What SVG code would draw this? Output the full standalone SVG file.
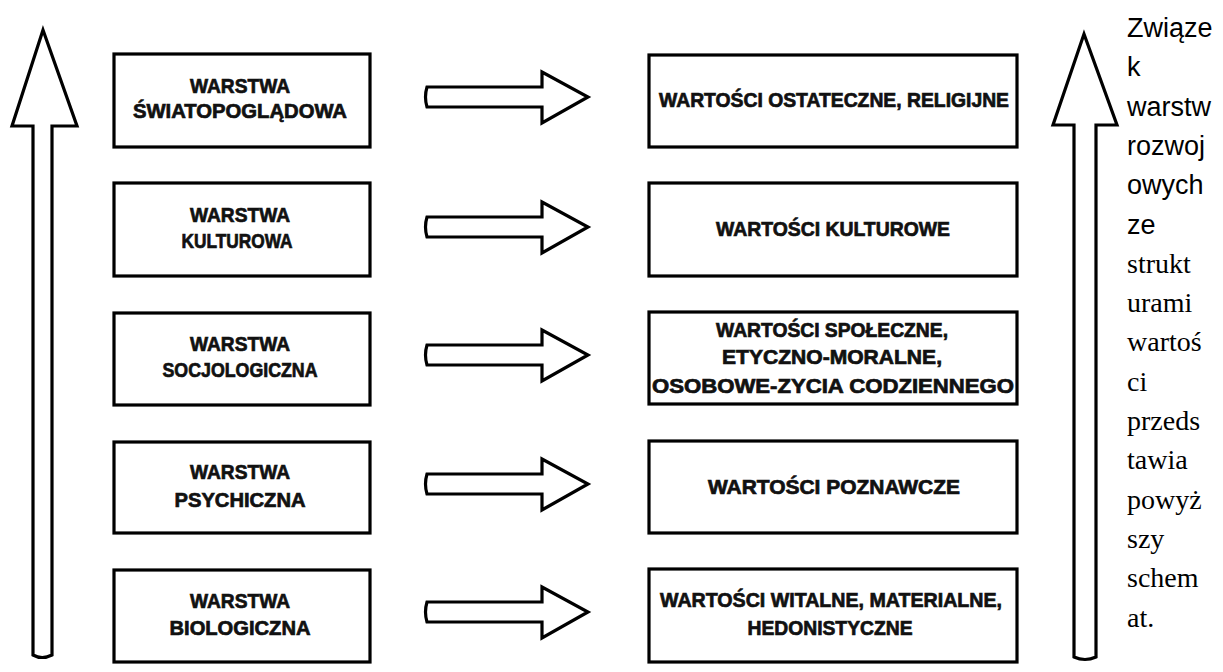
<svg xmlns="http://www.w3.org/2000/svg" width="1223" height="672" viewBox="0 0 1223 672">
<style>
  .box { fill: #fff; stroke: #000; stroke-width: 3.2; }
  .arr { fill: #fff; stroke: #000; stroke-width: 3.2; stroke-linejoin: miter; }
  .big { fill: #fff; stroke: #000; stroke-width: 3.2; stroke-linejoin: miter; }
  .lbl { font-family: "Liberation Sans", Arial, sans-serif; font-weight: 700; font-size: 20px; fill: #111; stroke: #111; stroke-width: 0.7; text-anchor: middle; }
  .sans { font-family: "Liberation Sans", Arial, sans-serif; font-size: 27px; fill: #000; }
  .serif { font-family: "Liberation Serif", "Times New Roman", serif; font-size: 28px; fill: #000; }
</style>
<defs>
  <path id="harrow" d="M0,-10 H115 V-25 L161,0 L115,26 V10 H0 Q-3,0 0,-10 Z"/>
</defs>
<rect width="1223" height="672" fill="#fff"/>

<g id="left-axis">
  <path class="big" d="M43,30 L77,126 H52 V655 Q42,660 33,655 V126 H12 Z"/>
</g>
<g id="right-axis">
  <path class="big" d="M1084,34 L1117,125 H1096 V657 Q1085,662 1074,657 V125 H1053 Z"/>
</g>

<g id="connectors">
  <use href="#harrow" class="arr" x="427" y="97"/>
  <use href="#harrow" class="arr" x="427" y="227"/>
  <use href="#harrow" class="arr" x="427" y="355"/>
  <use href="#harrow" class="arr" x="427" y="484"/>
  <use href="#harrow" class="arr" x="427" y="612"/>
</g>

<g id="l1">
  <rect class="box" x="114" y="54" width="256" height="93"/>
  <text class="lbl" x="240" y="93" textLength="100" lengthAdjust="spacingAndGlyphs">WARSTWA</text>
  <text class="lbl" x="240" y="118" textLength="214" lengthAdjust="spacingAndGlyphs">ŚWIATOPOGLĄDOWA</text>
</g>
<g id="l2">
  <rect class="box" x="114" y="183" width="256" height="93"/>
  <text class="lbl" x="240" y="222" textLength="100" lengthAdjust="spacingAndGlyphs">WARSTWA</text>
  <text class="lbl" x="237" y="248" textLength="111" lengthAdjust="spacingAndGlyphs">KULTUROWA</text>
</g>
<g id="l3">
  <rect class="box" x="114" y="313" width="256" height="92"/>
  <text class="lbl" x="240" y="351" textLength="100" lengthAdjust="spacingAndGlyphs">WARSTWA</text>
  <text class="lbl" x="240" y="377" textLength="155" lengthAdjust="spacingAndGlyphs">SOCJOLOGICZNA</text>
</g>
<g id="l4">
  <rect class="box" x="114" y="442" width="256" height="91"/>
  <text class="lbl" x="240" y="479" textLength="100" lengthAdjust="spacingAndGlyphs">WARSTWA</text>
  <text class="lbl" x="240" y="507" textLength="131" lengthAdjust="spacingAndGlyphs">PSYCHICZNA</text>
</g>
<g id="l5">
  <rect class="box" x="114" y="570" width="256" height="92"/>
  <text class="lbl" x="240" y="608" textLength="100" lengthAdjust="spacingAndGlyphs">WARSTWA</text>
  <text class="lbl" x="240" y="635" textLength="141" lengthAdjust="spacingAndGlyphs">BIOLOGICZNA</text>
</g>

<g id="r1">
  <rect class="box" x="649" y="55" width="368" height="92"/>
  <text class="lbl" x="834" y="107" textLength="350" lengthAdjust="spacingAndGlyphs">WARTOŚCI OSTATECZNE, RELIGIJNE</text>
</g>
<g id="r2">
  <rect class="box" x="649" y="183" width="368" height="93"/>
  <text class="lbl" x="833" y="236" textLength="234" lengthAdjust="spacingAndGlyphs">WARTOŚCI KULTUROWE</text>
</g>
<g id="r3">
  <rect class="box" x="649" y="312" width="368" height="92"/>
  <text class="lbl" x="832" y="337" textLength="232" lengthAdjust="spacingAndGlyphs">WARTOŚCI SPOŁECZNE,</text>
  <text class="lbl" x="832" y="364" textLength="220" lengthAdjust="spacingAndGlyphs">ETYCZNO-MORALNE,</text>
  <text class="lbl" x="833" y="393" textLength="362" lengthAdjust="spacingAndGlyphs">OSOBOWE-ZYCIA CODZIENNEGO</text>
</g>
<g id="r4">
  <rect class="box" x="649" y="441" width="368" height="92"/>
  <text class="lbl" x="834" y="494" textLength="252" lengthAdjust="spacingAndGlyphs">WARTOŚCI POZNAWCZE</text>
</g>
<g id="r5">
  <rect class="box" x="649" y="569" width="368" height="93"/>
  <text class="lbl" x="831" y="607" textLength="342" lengthAdjust="spacingAndGlyphs">WARTOŚCI WITALNE, MATERIALNE,</text>
  <text class="lbl" x="830" y="635" textLength="165" lengthAdjust="spacingAndGlyphs">HEDONISTYCZNE</text>
</g>

<g id="caption">
  <text class="sans" x="1127" y="37">Związe</text>
  <text class="sans" x="1127" y="76">k</text>
  <text class="sans" x="1127" y="116">warstw</text>
  <text class="sans" x="1127" y="155">rozwoj</text>
  <text class="sans" x="1127" y="194">owych</text>
  <text class="sans" x="1127" y="234">ze</text>
  <text class="serif" x="1127" y="273">strukt</text>
  <text class="serif" x="1127" y="312">urami</text>
  <text class="serif" x="1127" y="351">wartoś</text>
  <text class="serif" x="1127" y="391">ci</text>
  <text class="serif" x="1127" y="430">przeds</text>
  <text class="serif" x="1127" y="469">tawia</text>
  <text class="serif" x="1127" y="509">powyż</text>
  <text class="serif" x="1127" y="548">szy</text>
  <text class="serif" x="1127" y="587">schem</text>
  <text class="serif" x="1127" y="627">at.</text>
</g>
</svg>
